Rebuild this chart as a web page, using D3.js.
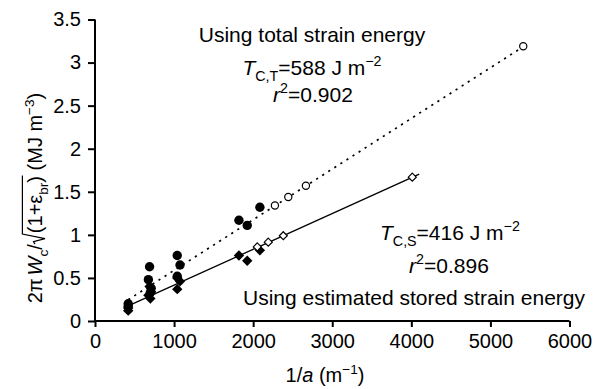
<!DOCTYPE html>
<html>
<head>
<meta charset="utf-8">
<script src="https://cdn.jsdelivr.net/npm/d3@7"></script>
<style>
  html, body { margin: 0; padding: 0; background: #fff; }
  svg { display: block; font-family: "Liberation Sans", Arial, Helvetica, sans-serif; }
  svg text { white-space: pre; }
</style>
</head>
<body>
<svg id="chart" width="603" height="389"></svg>
<script>
// Measured specimens: 1/a (m^-1) with total and stored strain-energy terms (MJ m^-3)
const measuredInvA   = [420, 420, 690, 675, 710, 700, 1040, 1075, 1040, 1820, 1925, 2085];
const measuredTotal  = [0.20, 0.17, 0.63, 0.48, 0.38, 0.33, 0.76, 0.65, 0.52, 1.17, 1.11, 1.32];
const measuredStored = [0.15, 0.12, 0.40, 0.30, 0.34, 0.26, 0.50, 0.46, 0.37, 0.76, 0.70, 0.82];

// Predicted points lying on the fitted lines
const predictedTotalInvA  = [2275, 2444, 2667, 5415];
const predictedTotal      = [1.34, 1.44, 1.57, 3.19];
const predictedStoredInvA = [2052, 2191, 2381, 4012];
const predictedStored     = [0.86, 0.915, 0.99, 1.67];

// Fracture toughness (J m^-2) = slope of each fit through the origin
const toughnessTotal  = 588;
const toughnessStored = 416;
const fitTotalRange   = [420, 5415];
const fitStoredRange  = [420, 4100];

const xTicks = [0, 1000, 2000, 3000, 4000, 5000, 6000];
const yTicks = [0, 0.5, 1, 1.5, 2, 2.5, 3, 3.5];
const yTickLabels = ["0", "0.5", "1", "1.5", "2", "2.5", "3", "3.5"];

const svg = d3.select("#chart");
const FS = 20;   // tick labels
const FA = 21;   // annotations

const x = d3.scaleLinear().domain([0, 6000]).range([95, 569.5]);
const y = d3.scaleLinear().domain([0, 3.5]).range([321, 19.5]);

// Axes
const xAxis = d3.axisBottom(x).tickValues(xTicks).tickSize(6).tickPadding(7).tickFormat(d3.format("d"));
const yAxis = d3.axisLeft(y).tickValues(yTicks).tickSize(7).tickPadding(7)
  .tickFormat((d, i) => yTickLabels[i]);

const gx = svg.append("g").attr("transform", `translate(0,${y(0)})`).call(xAxis);
const gy = svg.append("g").attr("transform", `translate(${x(0)},0)`).call(yAxis);
[gx, gy].forEach(g => {
  g.select(".domain").attr("stroke", "#000").attr("stroke-width", 2);
  g.selectAll(".tick line").attr("stroke", "#000").attr("stroke-width", 2);
  g.selectAll(".tick text").attr("fill", "#000").style("font-size", FS + "px")
    .style("font-family", "'Liberation Sans', Arial, sans-serif");
});
gx.select(".domain").attr("d", `M${x(0)},0H${x(6000)}`);
gy.select(".domain").attr("d", `M0,${y(0)}V${y(3.5)}`);

// Fitted lines y = T * (1/a), with T in J m^-2 and y in MJ m^-3
function fitPath(T, range) {
  return range.map(v => [x(v), y(T * v / 1e6)]);
}
svg.append("path")
  .attr("d", d3.line()(fitPath(toughnessTotal, fitTotalRange)))
  .attr("fill", "none").attr("stroke", "#000").attr("stroke-width", 1.7)
  .attr("stroke-dasharray", "2.2,5");
svg.append("path")
  .attr("d", d3.line()(fitPath(toughnessStored, fitStoredRange)))
  .attr("fill", "none").attr("stroke", "#000").attr("stroke-width", 1.3);

// Markers
const diamond = r => `M0,${-r}L${r},0L0,${r}L${-r},0Z`;

svg.append("g").selectAll("path")
  .data(d3.zip(measuredInvA, measuredStored))
  .join("path")
  .attr("transform", d => `translate(${x(d[0])},${y(d[1])})`)
  .attr("d", diamond(5.2)).attr("fill", "#000");

svg.append("g").selectAll("circle")
  .data(d3.zip(measuredInvA, measuredTotal))
  .join("circle")
  .attr("cx", d => x(d[0])).attr("cy", d => y(d[1])).attr("r", 4.7)
  .attr("fill", "#000");

svg.append("g").selectAll("path")
  .data(d3.zip(predictedStoredInvA, predictedStored))
  .join("path")
  .attr("transform", d => `translate(${x(d[0])},${y(d[1])})`)
  .attr("d", diamond(4)).attr("fill", "#fff").attr("stroke", "#000").attr("stroke-width", 1.2);

svg.append("g").selectAll("circle")
  .data(d3.zip(predictedTotalInvA, predictedTotal))
  .join("circle")
  .attr("cx", d => x(d[0])).attr("cy", d => y(d[1])).attr("r", 3.6)
  .attr("fill", "#fff").attr("stroke", "#000").attr("stroke-width", 1.2);

// Rich text: a row of segments laid out one after another
// seg: {t, s: "sub"|"sup"|undefined, i: italic, gap, space (blank advance)}
function richText(parent, segs, cx, baseline, anchor, fs) {
  fs = fs || FA;
  const g = parent.append("g");
  let pos = 0;
  const placed = [];
  segs.forEach(seg => {
    if (seg.space) {
      placed.push({ start: pos, end: pos + seg.space, seg });
      pos += seg.space;
      return;
    }
    const size = seg.s ? fs * 0.68 : fs;
    const dy = seg.s === "sub" ? fs * 0.3 : seg.s === "sup" ? -fs * 0.42 : 0;
    const t = g.append("text")
      .attr("x", pos).attr("y", dy)
      .style("font-size", size + "px")
      .style("font-style", seg.i ? "italic" : "normal")
      .attr("fill", "#000")
      .text(seg.t);
    const w = t.node().getComputedTextLength();
    placed.push({ start: pos, end: pos + w, seg });
    pos += w + (seg.gap || 0);
  });
  const off = anchor === "start" ? 0 : anchor === "end" ? -pos : -pos / 2;
  g.attr("transform", `translate(${cx + off},${baseline})`);
  return { g, placed, width: pos, off };
}

// Annotations for the total-energy fit
richText(svg, [{ t: "Using total strain energy" }], 312, 41.5, "middle");
richText(svg, [
  { t: "T", i: true }, { t: "C,T", s: "sub" }, { t: "=588 J m" }, { t: "−2", s: "sup" }
], 312, 75, "middle");
richText(svg, [
  { t: "r", i: true }, { t: "2", s: "sup" }, { t: "=0.902" }
], 313, 101.5, "middle");

// Annotations for the stored-energy fit
richText(svg, [
  { t: "T", i: true }, { t: "C,S", s: "sub" }, { t: "=416 J m" }, { t: "−2", s: "sup" }
], 380, 240, "start");
richText(svg, [
  { t: "r", i: true }, { t: "2", s: "sup" }, { t: "=0.896" }
], 449, 273, "middle");
richText(svg, [{ t: "Using estimated stored strain energy" }], 243, 305, "start");

// X axis title
richText(svg, [
  { t: "1/" }, { t: "a", i: true }, { t: "\u00A0(m" }, { t: "−1", s: "sup" }, { t: ")" }
], 325, 382, "middle", 20);

// Y axis title, rotated; the radical sign and its vinculum are drawn as a path
const YF = 20;
const yTitle = svg.append("g").attr("transform", "translate(42,198) rotate(-90)");
const yt = richText(yTitle, [
  { t: "2π", gap: 3 }, { t: "W", i: true }, { t: "c", s: "sub" }, { t: "/" },
  { space: 11 },
  { t: "(1+ε" }, { t: "br", s: "sub" }, { t: ")" },
  { t: "\u00A0(MJ m" }, { t: "−3", s: "sup" }, { t: ")" }
], 0, 0, "middle", YF);
const rootSeg = yt.placed[4];
const closeSeg = yt.placed[7];
const rootX = rootSeg.start, barY = -YF * 0.98;
yt.g.append("path")
  .attr("d", `M${rootX},${-7}L${rootX + 2.5},${-8.5}L${rootX + 5.5},${3}L${rootX + 10},${barY}H${closeSeg.end + 0.5}`)
  .attr("fill", "none").attr("stroke", "#000").attr("stroke-width", 1.2)
  .attr("stroke-linejoin", "miter");
</script>
</body>
</html>
